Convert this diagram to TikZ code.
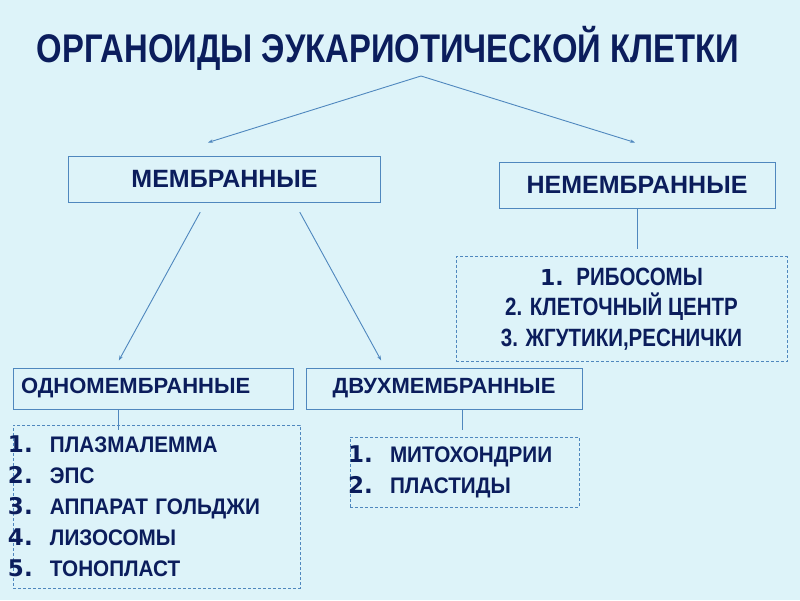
\documentclass[tikz,border=0pt]{standalone}
\usepackage{fontspec}
\setmainfont{Liberation Sans}
\newfontfamily\narrowfont[FakeStretch=0.82]{Liberation Sans}
\newfontfamily\listfont[FakeStretch=0.92]{Liberation Sans}
\newfontfamily\numfont{DejaVu Sans}
\usetikzlibrary{arrows.meta}

\definecolor{bgcyan}{HTML}{DDF3F9}
\definecolor{navy}{HTML}{0B1D5C}
\definecolor{frameblue}{HTML}{4F87BE}

% one numbered item of a list
\newcommand{\itm}[2]{\makebox[42pt][l]{\numfont\bfseries\fontsize{23}{31}\selectfont #1.}#2}

\tikzset{
    headbox/.style={draw=frameblue, line width=1pt, inner sep=0pt, minimum height=41pt},
    listbox/.style={draw=frameblue, line width=0.9pt, dash pattern=on 3pt off 2pt, inner ysep=0pt},
    link/.style={frameblue, line width=0.9pt},
    arrowlink/.style={link, -{Stealth[length=5pt,width=3.5pt]}}
}

\begin{document}
\begin{tikzpicture}[x=1pt, y=-1pt, every node/.style={text=navy}]
        % Background of the slide
        \fill[bgcyan] (0,0) rectangle (800,600);
        \useasboundingbox (0,0) rectangle (800,600);

        % Title
        \node[anchor=base, font=\bfseries\narrowfont\fontsize{40}{40}\selectfont] (title) at (388,62)
            {ОРГАНОИДЫ ЭУКАРИОТИЧЕСКОЙ КЛЕТКИ};
        \coordinate (apex) at (421,76);

        % Two main groups
        \node[headbox, minimum width=312pt, minimum height=46pt, font=\bfseries\fontsize{25}{25}\selectfont] (mem) at (224.5,179)
            {МЕМБРАННЫЕ};
        \node[headbox, minimum width=276pt, minimum height=46pt, font=\bfseries\fontsize{25}{25}\selectfont] (nemem) at (637,185)
            {НЕМЕМБРАННЫЕ};

        \draw[arrowlink] (apex) -- ([xshift=-16.5pt,yshift=13pt]mem.north);
        \draw[arrowlink] (apex) -- ([xshift=-2pt,yshift=19pt]nemem.north);

        % Non-membrane organoids
        \node[listbox, minimum width=331pt, minimum height=105pt, align=center,
              font=\bfseries\narrowfont\fontsize{25}{30.5}\selectfont] (nonlist) at (621.5,309)
            {{\numfont\fontsize{22}{30.5}\selectfont 1.}\enspace РИБОСОМЫ\\
             2. КЛЕТОЧНЫЙ ЦЕНТР\\
             3. ЖГУТИКИ,РЕСНИЧКИ};
        \draw[link, shorten >=7.5pt] (nemem.south) -- (nemem.south |- nonlist.north);

        % Single- and double-membrane groups
        \node[headbox, minimum width=280pt, text width=264pt, inner xsep=8pt, align=left,
              font=\bfseries\fontsize{22}{22}\selectfont] (odno) at (153,388.5)
            {ОДНОМЕМБРАННЫЕ};
        \node[headbox, minimum width=276pt, font=\bfseries\fontsize{22}{22}\selectfont] (dvuh) at (444,388.5)
            {ДВУХМЕМБРАННЫЕ};

        \draw[arrowlink, shorten <=11pt, shorten >=8pt] ([xshift=-19pt]mem.south) -- ([xshift=-38pt]odno.north);
        \draw[arrowlink, shorten <=11pt, shorten >=8pt] ([xshift=70pt]mem.south) -- ([xshift=-59pt]dvuh.north);

        % Lists
        \node[listbox, text width=297pt, inner xsep=-5pt, minimum height=163pt, align=left,
              font=\bfseries\listfont\fontsize{22.5}{31}\selectfont] (odnolist) at (156.5,506.5)
            {\itm{1}{ПЛАЗМАЛЕММА}\\
             \itm{2}{ЭПС}\\
             \itm{3}{АППАРАТ ГОЛЬДЖИ}\\
             \itm{4}{ЛИЗОСОМЫ}\\
             \itm{5}{ТОНОПЛАСТ}};
        \node[listbox, text width=233pt, inner xsep=-2pt, minimum height=70pt, align=left,
              font=\bfseries\listfont\fontsize{22.5}{31}\selectfont] (dvulist) at (464.5,472)
            {\itm{1}{МИТОХОНДРИИ}\\
             \itm{2}{ПЛАСТИДЫ}};

        \draw[link] ([xshift=-35pt]odno.south) -- ([xshift=-38.5pt,yshift=-5pt]odnolist.north);
        \draw[link] ([xshift=18pt]dvuh.south) -- ([xshift=-2.5pt,yshift=7pt]dvulist.north);

    \end{tikzpicture}
\end{document}
